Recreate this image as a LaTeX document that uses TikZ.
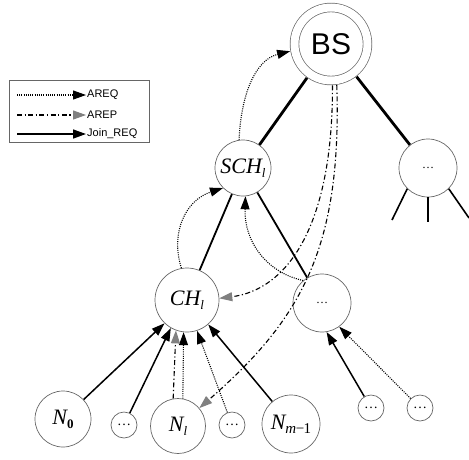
\documentclass[tikz,border=0pt]{standalone}
\usepackage{fontspec}
\newfontfamily\tms{Liberation Serif}
\newfontfamily\lsans{Liberation Sans}
\usetikzlibrary{arrows.meta}
\newcommand\lab[2]{{\tms\itshape #1}\raisebox{-0.4ex}{#2}}
\newcommand\subsz{\tms\fontsize{13}{13}\selectfont}
\begin{document}
\begin{tikzpicture}[x=1pt,y=-1pt,
  nd/.style={circle, draw=black!60, line width=0.7pt, inner sep=0pt, font=\tms\fontsize{22}{22}\selectfont},
  bigc/.style={nd, minimum size=#1},
  sm/.style={nd, minimum size=26pt, font=\tms\fontsize{14}{14}\selectfont},
  treeln/.style={line width=#1, black},
  tip/.style={-{Triangle[length=13pt,width=9pt]}},
  joinar/.style={line width=1.5pt, tip},
  areqar/.style={line width=1.1pt, dash pattern=on 1pt off 1.2pt, tip},
  arepar/.style={line width=1.1pt, dash pattern=on 5pt off 2.5pt on 1.2pt off 2.5pt, -{Triangle[length=13pt,width=9pt,color=black!50]}},
  legtxt/.style={font=\lsans\fontsize{11}{11}\selectfont, anchor=west, inner sep=1pt},
]
\useasboundingbox (0,0) rectangle (469,459);

% nodes
\node[circle, draw=black!60, line width=0.7pt, double, double distance=8pt,
      minimum size=73pt, inner sep=0pt, outer sep=5pt,
      font=\lsans\fontsize{30}{30}\selectfont] (BS) at (331,44) {BS};
\node[bigc=58pt, font=\tms\fontsize{12}{12}\selectfont] (R) at (428,168) {\dots};
\node[bigc=56pt] (SCH) at (243,168) {\lab{SCH}{\subsz\itshape l}};
\node[bigc=64pt] (CH) at (187,300) {\lab{CH}{\subsz\itshape l}};
\node[bigc=58pt, font=\tms\fontsize{12}{12}\selectfont] (M) at (322,303) {\dots};
\node[bigc=56pt] (N0) at (63,419) {\lab{N}{\subsz\bfseries 0}};
\node[sm] (d1) at (124,425) {\dots};
\node[bigc=55pt] (Nl) at (178,426) {\lab{N}{\subsz\itshape l}};
\node[sm] (d2) at (232,425) {\dots};
\node[bigc=58pt] (Nm) at (291,424) {\lab{N}{\tms\fontsize{15}{15}\selectfont\textit{m}\kern-0.5pt\textminus\kern-0.5pt1}};
\node[sm] (d3) at (371,408) {\dots};
\node[sm] (d4) at (420,408) {\dots};

% tree
\draw[treeln=2.8pt] (BS) -- (SCH);
\draw[treeln=2.8pt] (BS) -- (R);
\draw[treeln=1.8pt] (SCH) -- (CH);
\draw[treeln=1.8pt] (SCH) -- (M);
\coordinate (r1) at (392,220);
\coordinate (r2) at (428,222);
\coordinate (r3) at (469,218);
\draw[treeln=1.6pt] (R.-135) -- (r1);
\draw[treeln=1.6pt] (R.-90) -- (r2);
\draw[treeln=1.6pt] (R.-45) -- (r3);

% Join_REQ
\draw[joinar] (N0) -- (CH.-134);
\draw[joinar] (d1) -- (CH.-120);
\draw[joinar] (Nm) -- (CH.-49);
\draw[joinar] (d3) -- (M.-81);

% AREQ
\draw[areqar] (Nl.80) -- (CH.-96);
\draw[areqar] (d2) -- (CH.-72);
\draw[areqar] (d4) -- (M.-54);
\draw[areqar] (CH.100) .. controls (170,232) and (186,200) .. (SCH.-135);
\draw[areqar] (SCH.98) .. controls (241,95) and (255,60) .. (BS.190);
\draw[areqar] (M.130) .. controls (265,272) and (244,240) .. (SCH.-85);

% AREP
\draw[arepar] (Nl.100) -- (CH.-110);
\draw[arepar] (BS.-88) .. controls (333,230) and (285,290) .. (CH.3);
\draw[arepar] (BS.-82) .. controls (342,250) and (300,320) .. (Nl.40);

% legend
\node[draw=black!60, line width=0.6pt, minimum width=140pt, minimum height=62pt,
      anchor=north west, inner sep=0pt] (leg) at (9,80) {};
\node[legtxt] (t1) at (86,95) {AREQ};
\node[legtxt] (t2) at (86,115) {AREP};
\node[legtxt] (t3) at (86,134) {Join\_REQ};
\coordinate (s1) at (17,95);
\coordinate (s2) at (17,115);
\coordinate (s3) at (17,134);
\draw[areqar] (s1) -- (t1.west);
\draw[arepar] (s2) -- (t2.west);
\draw[joinar] (s3) -- (t3.west);
\end{tikzpicture}
\end{document}
